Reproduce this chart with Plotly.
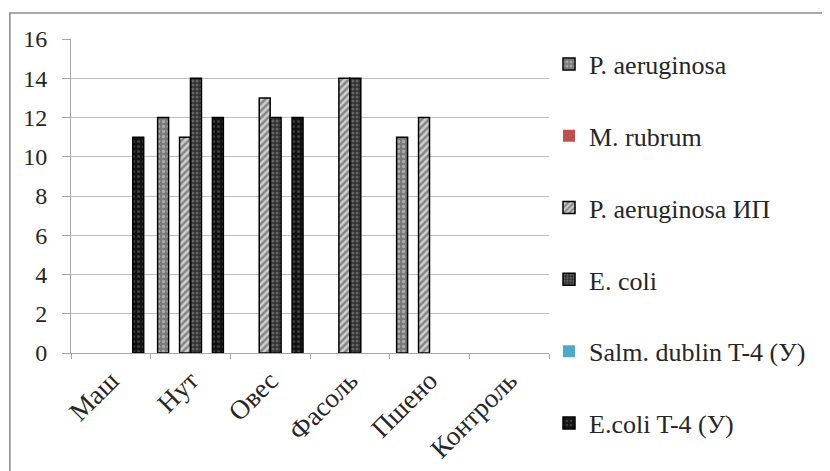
import plotly.graph_objects as go

# ── Data ──────────────────────────────────────────────────────────────────────
categories = ["Маш", "Нут", "Овес", "Фасоль", "Пшено", "Контроль"]

p_aeruginosa    = [None, 12, None, None, 11, None]
m_rubrum        = [None, None, None, None, None, None]
p_aeruginosa_ip = [None, 11, 13, 14, 12, None]
e_coli          = [None, 14, 12, 14, None, None]
salm_dublin     = [None, None, None, None, None, None]
e_coli_t4       = [11, 12, 12, None, None, None]

y_ticks = [0, 2, 4, 6, 8, 10, 12, 14, 16]

# ── Style ─────────────────────────────────────────────────────────────────────
FONT = "Liberation Serif, Times New Roman, serif"
TEXT = "#262626"
GRID = "#bfbfbf"
AXIS = "#a6a6a6"

series = [
    ("P. aeruginosa", p_aeruginosa,
     dict(color="#7a7a7a", pattern=dict(shape=".", fgcolor="#d9d9d9", bgcolor="#7a7a7a",
                                        size=5, solidity=0.35))),
    ("M. rubrum", m_rubrum, dict(color="#c0504d")),
    ("P. aeruginosa ИП", p_aeruginosa_ip,
     dict(color="#d0d0d0", pattern=dict(shape="/", fgcolor="#3a3a3a", bgcolor="#d0d0d0",
                                        size=5, solidity=0.5))),
    ("E. coli", e_coli,
     dict(color="#2e2e2e", pattern=dict(shape=".", fgcolor="#a0a0a0", bgcolor="#2e2e2e",
                                        size=4, solidity=0.45))),
    ("Salm. dublin T-4 (У)", salm_dublin, dict(color="#4bacc6")),
    ("E.coli T-4 (У)", e_coli_t4,
     dict(color="#121212", pattern=dict(shape=".", fgcolor="#6a6a6a", bgcolor="#121212",
                                        size=5, solidity=0.3))),
]

fig = go.Figure()
for i, (name, vals, marker) in enumerate(series):
    marker = dict(marker, line=dict(color="#000000", width=1.5))
    if "pattern" not in marker:
        marker["line"] = dict(width=0)
    fig.add_trace(go.Bar(
        x=categories, y=vals, name=name,
        marker=marker,
        legendgroup=f"g{i}",
    ))

# page body adds 8px, so the figure is drawn 8px smaller
fig.update_layout(
    width=822, height=463,
    barmode="group",
    bargap=0.175,
    bargroupgap=0,
    paper_bgcolor="white",
    plot_bgcolor="white",
    font=dict(family=FONT, color=TEXT, size=24),
    margin=dict(l=63, r=281, t=31, b=118, autoexpand=False),
    showlegend=True,
    legend=dict(
        x=1.0, xanchor="left", y=0.995, yanchor="top",
        font=dict(size=26, family=FONT, color=TEXT),
        tracegroupgap=35,
        maxheight=1000,
        bgcolor="rgba(0,0,0,0)",
        borderwidth=0,
    ),
    xaxis=dict(
        type="category",
        showgrid=False, zeroline=False,
        showline=True, linecolor=AXIS, linewidth=1,
        ticks="outside", tickson="boundaries", ticklen=5, tickcolor=AXIS,
        tickangle=-45, tickfont=dict(size=27),
    ),
    yaxis=dict(
        range=[0, 16], tickvals=y_ticks,
        showgrid=True, gridcolor=GRID, gridwidth=1,
        zeroline=False,
        showline=True, linecolor=AXIS, linewidth=1,
        ticks="outside", ticklen=8, tickcolor=AXIS,
        ticklabelstandoff=10, tickfont=dict(size=24),
    ),
    shapes=[dict(
        type="rect", xref="paper", yref="paper",
        x0=-0.128, x1=1.65, y0=-0.45, y1=1.083,
        line=dict(color="#8c8c8c", width=1.5), fillcolor="rgba(0,0,0,0)",
        layer="below",
    )],
)

fig.write_html("out.html")
